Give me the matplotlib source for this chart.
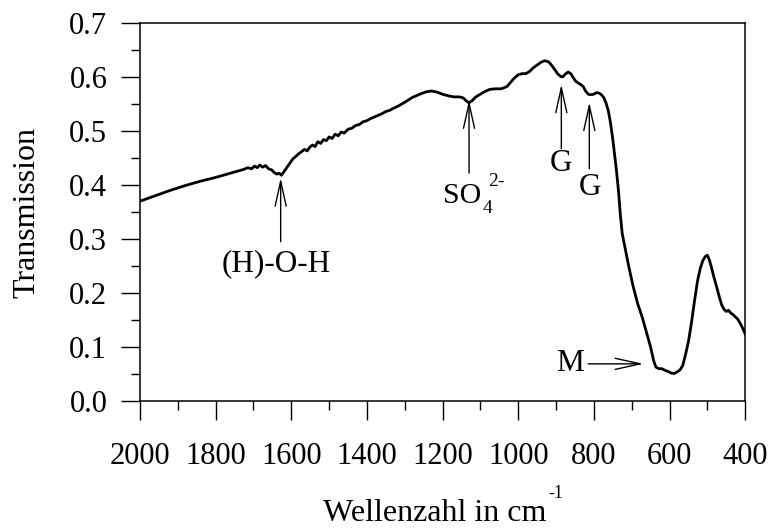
import matplotlib
matplotlib.use("Agg")
import matplotlib.pyplot as plt
from matplotlib.ticker import MultipleLocator


# ======================
# Spectrum
# ======================
wellenzahl = [
    2000, 1960, 1920, 1880, 1840, 1800, 1780, 1760, 1740, 1725, 1715, 1705,
    1697, 1690, 1683, 1676, 1668, 1660, 1652, 1645, 1638, 1632, 1626, 1620,
    1612, 1604, 1596, 1588, 1580, 1572, 1565, 1558, 1551, 1544, 1537, 1530,
    1522, 1515, 1507, 1500, 1492, 1484, 1476, 1468, 1460, 1450, 1440, 1430,
    1420, 1410, 1400, 1390, 1380, 1370, 1360, 1350, 1340, 1330, 1320, 1300,
    1280, 1260, 1245, 1230, 1215, 1200, 1185, 1170, 1155, 1145, 1138, 1130,
    1122, 1112, 1100, 1088, 1075, 1060, 1045, 1030, 1020, 1010, 1000, 990,
    980, 970, 960, 950, 940, 930, 920, 912, 904, 896, 888, 882, 876, 868,
    861, 855, 848, 842, 835, 828, 822, 815, 808, 800, 793, 786, 780, 774,
    768, 762, 756, 750, 745, 740, 735, 730, 725, 718, 708, 696, 684, 672,
    660, 650, 642, 636, 628, 620, 612, 604, 596, 588, 580, 572, 565, 558,
    550, 542, 534, 526, 519, 512, 505, 500, 495, 490, 484, 476, 468, 462,
    456, 450, 444, 438, 432, 426, 420, 414, 408, 402, 400,
]
transmission = [
    0.370, 0.380, 0.390, 0.399, 0.407, 0.414, 0.418, 0.422, 0.426, 0.429, 0.432, 0.430,
    0.435, 0.432, 0.437, 0.433, 0.436, 0.430, 0.428, 0.423, 0.420, 0.422, 0.418, 0.424,
    0.432, 0.440, 0.448, 0.453, 0.458, 0.462, 0.466, 0.463, 0.470, 0.474, 0.471, 0.480,
    0.477, 0.484, 0.482, 0.489, 0.486, 0.494, 0.491, 0.498, 0.496, 0.503, 0.505, 0.510,
    0.512, 0.517, 0.519, 0.523, 0.526, 0.529, 0.532, 0.536, 0.538, 0.542, 0.545, 0.553,
    0.562, 0.568, 0.572, 0.574, 0.572, 0.568, 0.565, 0.563, 0.563, 0.561, 0.556, 0.552,
    0.556, 0.563, 0.568, 0.573, 0.577, 0.578, 0.578, 0.582, 0.590, 0.598, 0.604, 0.606,
    0.606, 0.610, 0.617, 0.622, 0.627, 0.630, 0.628, 0.622, 0.614, 0.606, 0.601, 0.600,
    0.605, 0.609, 0.606, 0.599, 0.592, 0.589, 0.586, 0.582, 0.574, 0.568, 0.567, 0.568,
    0.571, 0.570, 0.567, 0.562, 0.552, 0.538, 0.515, 0.485, 0.455, 0.425, 0.390, 0.345,
    0.310, 0.285, 0.250, 0.212, 0.180, 0.155, 0.125, 0.100, 0.075, 0.063, 0.060, 0.060,
    0.057, 0.055, 0.052, 0.051, 0.054, 0.058, 0.066, 0.085, 0.110, 0.145, 0.185, 0.222,
    0.245, 0.260, 0.268, 0.270, 0.262, 0.250, 0.233, 0.213, 0.192, 0.178, 0.170, 0.166,
    0.168, 0.163, 0.160, 0.156, 0.152, 0.145, 0.137, 0.128, 0.124,
]

# band arrows: tip and tail
arrow_tips = [(1628, 0.413), (1130, 0.557), (886, 0.586), (812, 0.553), (669, 0.069)]
arrow_tails = [(1628, 0.295), (1130, 0.422), (886, 0.467), (812, 0.430), (815, 0.069)]
# plain band labels and their centres
band_labels = ["(H)-O-H", "G", "G", "M"]
label_pos = [(1640, 0.255), (888, 0.440), (810, 0.396), (862, 0.070)]


plt.rcParams["font.family"] = ["Liberation Serif", "DejaVu Serif"]

FS = 22.5

fig = plt.figure(figsize=(7.69, 5.32), dpi=100, facecolor="white")
ax = fig.add_axes([0.182, 0.246, 0.787, 0.711])

ax.plot(wellenzahl, transmission, color="black", lw=2.0)

ax.set_xlim(2000, 400)
ax.set_ylim(0, 0.7)
ax.xaxis.set_major_locator(MultipleLocator(200))
ax.xaxis.set_minor_locator(MultipleLocator(100))
ax.yaxis.set_major_locator(MultipleLocator(0.1))
ax.yaxis.set_minor_locator(MultipleLocator(0.05))
ax.yaxis.set_major_formatter(plt.FuncFormatter(lambda v, p: f"{v:.1f}"))

ax.tick_params(which="both", direction="out", top=False, right=False,
               width=1.0, labelsize=22)
ax.tick_params(which="major", length=13.5)
ax.tick_params(which="minor", length=6.5)
ax.tick_params(axis="x", which="major", pad=16)
ax.tick_params(axis="y", which="major", pad=10)
for s in ax.spines.values():
    s.set_linewidth(1.1)

ax.set_ylabel("Transmission", fontsize=23)
ax.yaxis.set_label_coords(-0.162, 0.5)

# x label with a raised "-1" as in the original
fig.text(323 / 769, 1 - 521 / 532, "Wellenzahl in cm", fontsize=23,
         ha="left", va="baseline")
fig.text(548 / 769, 1 - 498 / 532, "-1", fontsize=13, ha="left", va="baseline")

for tip, tail in zip(arrow_tips, arrow_tails):
    ax.annotate("", xy=tip, xytext=tail,
                arrowprops=dict(arrowstyle="->,head_length=0.9,head_width=0.2",
                                lw=1.0, color="black", mutation_scale=20,
                                shrinkA=0, shrinkB=0))

for label, pos in zip(band_labels, label_pos):
    ax.text(pos[0], pos[1], label, fontsize=FS, ha="center", va="center")

# sulfate label built from pieces so the charge keeps a short hyphen
ax.text(1198, 0.367, "SO", fontsize=21.5, ha="left", va="baseline")
ax.text(1094, 0.349, "4", fontsize=14, ha="left", va="baseline")
ax.text(1080, 0.398, "2-", fontsize=14, ha="left", va="baseline")

fig.savefig("out.png", dpi=100, facecolor="white")
